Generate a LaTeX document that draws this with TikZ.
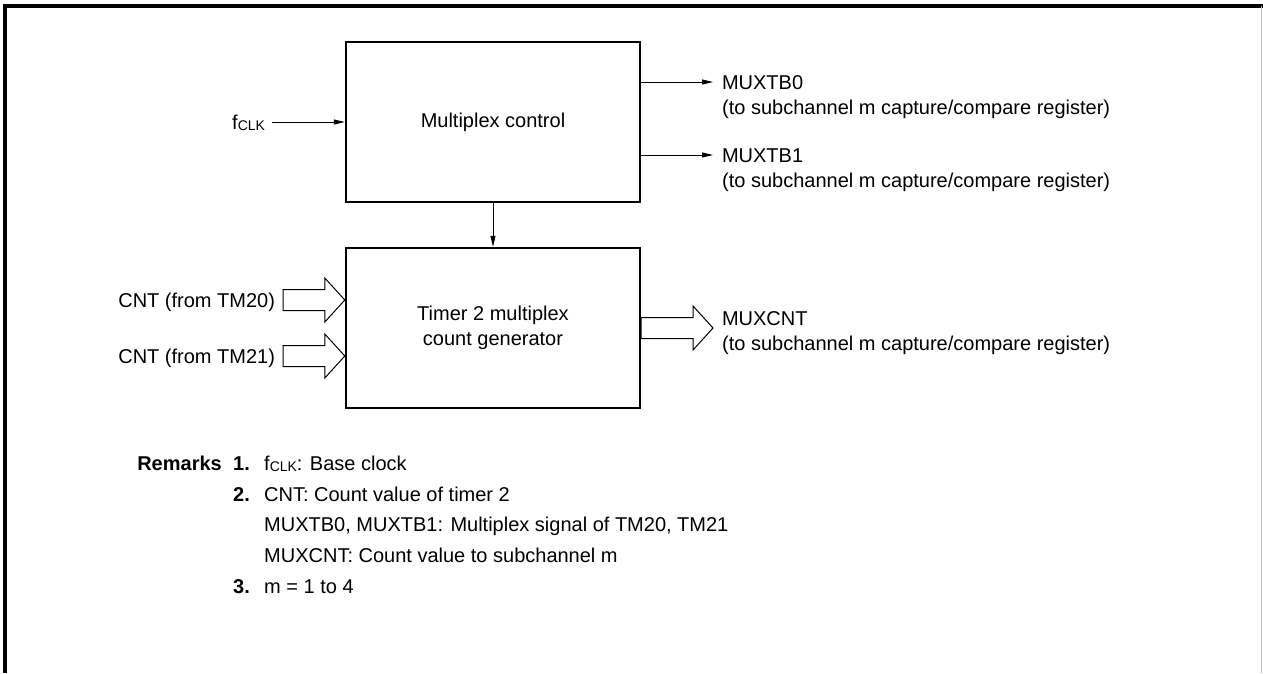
\documentclass[tikz,border=0pt]{standalone}
\usepackage{fontspec}
\setmainfont{Liberation Sans}
\usetikzlibrary{arrows.meta,calc}

\tikzset{
  block/.style={draw,line width=2.4pt,minimum width=294pt,minimum height=160pt,align=center,font=\fontsize{20}{25}\selectfont},
  lbl/.style={inner sep=0pt,text height=14.5pt,text depth=0pt,font=\fontsize{20}{25}\selectfont},
  note/.style={inner sep=0pt,font=\fontsize{20}{25}\selectfont},
  sig/.style={line width=1pt,-{Triangle[length=11pt,width=5pt]}},
  hollow/.style={draw,fill=white,line width=1pt,line join=miter},
}
\newcommand{\fatarrow}[2]{\draw[hollow] let \p1=#1, \p2=#2 in
  (\x1,\y1+10.5pt) -- (\x2-20pt,\y1+10.5pt) -- (\x2-20pt,\y1+22pt) -- (\x2,\y1)
  -- (\x2-20pt,\y1-22pt) -- (\x2-20pt,\y1-10.5pt) -- (\x1,\y1-10.5pt) -- cycle;}
\newcommand{\fclk}{f{\fontsize{14}{14}\selectfont\raisebox{-1pt}{CLK}}}

\begin{document}
\begin{tikzpicture}[x=1pt,y=-1pt]
\useasboundingbox (0,0) rectangle (1263,673);
% frame
\draw[line width=4pt] (5,673) -- (5,6) -- (1263,6);
\draw[black!25,line width=1pt] (1261.5,6) -- (1261.5,673);

% blocks
\node[block] (mctl) at (493,122) {Multiplex control};
\node[block] (tmux) at (493,328) {Timer 2 multiplex\\count generator};

% inputs
\node[lbl,anchor=east,outer sep=7pt] (fclk) at (272,122) {\fclk};
\draw[sig] (fclk.east) -- (mctl.west |- fclk.east);
\draw[sig] (mctl.south) -- (tmux.north);
\node[lbl,anchor=east,outer sep=8pt] (cnt0) at (283,300) {CNT (from TM20)};
\node[lbl,anchor=east,outer sep=8pt] (cnt1) at (283,356) {CNT (from TM21)};
\fatarrow{(cnt0.east)}{(tmux.west |- cnt0.east)}
\fatarrow{(cnt1.east)}{(tmux.west |- cnt1.east)}

% outputs
\node[lbl,anchor=west,outer sep=9pt] (tb0) at (713,82) {MUXTB0};
\node[note,anchor=base west] (tb0to) at (722,114) {(to subchannel m capture/compare register)};
\node[lbl,anchor=west,outer sep=9pt] (tb1) at (713,155) {MUXTB1};
\node[note,anchor=base west] (tb1to) at (722,187) {(to subchannel m capture/compare register)};
\node[lbl,anchor=west,outer sep=9pt] (mcnt) at (713,318) {MUXCNT};
\node[note,anchor=base west] (mcntto) at (722,350) {(to subchannel m capture/compare register)};
\draw[sig] (mctl.east |- tb0.west) -- (tb0.west);
\draw[sig] (mctl.east |- tb1.west) -- (tb1.west);
\fatarrow{(tmux.east)}{(mcnt.west |- tmux.east)}

% remarks
\node[note,anchor=base east,font=\fontsize{20}{25}\selectfont\bfseries] (rem) at (222,470) {Remarks};
\node[note,anchor=base west,font=\fontsize{20}{25}\selectfont\bfseries] (n1) at (233,470) {1.};
\node[note,anchor=base west] (r1) at (264,470) {\fclk: Base clock};
\node[note,anchor=base west,font=\fontsize{20}{25}\selectfont\bfseries] (n2) at (233,501) {2.};
\node[note,anchor=base west] (r2) at (264,501) {CNT: Count value of timer 2};
\node[note,anchor=base west] (r2b) at (264,531) {MUXTB0, MUXTB1: Multiplex signal of TM20, TM21};
\node[note,anchor=base west] (r2c) at (264,562) {MUXCNT: Count value to subchannel m};
\node[note,anchor=base west,font=\fontsize{20}{25}\selectfont\bfseries] (n3) at (233,593) {3.};
\node[note,anchor=base west] (r3) at (264,593) {m = 1 to 4};
\end{tikzpicture}
\end{document}
